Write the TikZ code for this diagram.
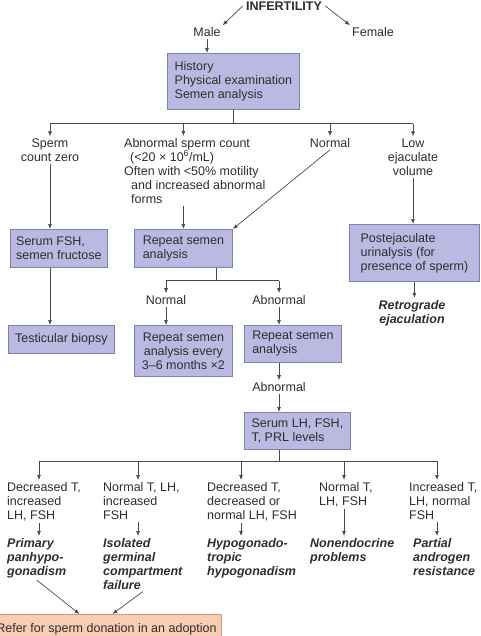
\documentclass[tikz,border=0pt]{standalone}
\usepackage{fontspec}
\setsansfont{Liberation Sans}
\usetikzlibrary{arrows.meta,calc}
\definecolor{inkc}{HTML}{2E2E2E}
\definecolor{wirec}{HTML}{4A4A4A}
\definecolor{lavfill}{HTML}{B9B9E2}
\definecolor{lavdraw}{HTML}{7F7FB0}
\definecolor{peachfill}{HTML}{F8CDB3}
\definecolor{peachdraw}{HTML}{D49A78}
\newcommand\chartfont{\sffamily\fontsize{12.5}{14}\selectfont}
\tikzset{pin/.style={-{Latex[length=5pt,width=4pt]}, draw=wirec, line width=0.7pt},
  bar/.style={draw=wirec, line width=0.7pt},
  blk/.style={draw=lavdraw, fill=lavfill, line width=0.8pt, anchor=north west, align=left, inner xsep=3pt, inner ysep=0pt},
  rbox/.style={draw=peachdraw, fill=peachfill, line width=0.8pt, inner xsep=5pt},
  lbl/.style={align=center, inner sep=2pt},
  res/.style={font=\chartfont\bfseries\itshape, align=left, inner sep=2pt, anchor=north west}}

\begin{document}
\begin{tikzpicture}[x=1pt, y=-1pt, font=\chartfont, text=inkc]
  \useasboundingbox (0,0) rectangle (480,636);
  \clip (0,0) rectangle (480,636);
  \node[font=\chartfont\bfseries] (inf) at (284,6) {INFERTILITY};
  \node[lbl] (male) at (207,32) {Male};
  \node[lbl] (female) at (373,32) {Female};
  \draw[pin] (inf.west) -- (male.north east);
  \draw[pin] (inf.east) -- (female.north west);
  \node[blk, minimum width=132pt, minimum height=56pt] (hist) at (167,53) {History\\Physical examination\\Semen analysis};
  \draw[pin] (male.south) -- (male.south |- hist.north);
  \draw[bar] (hist.south) -- ++(0,14) coordinate (bus);

  \node[lbl] (sperm) at (50,150) {Sperm\\count zero};
  \node[lbl, anchor=north west, align=left] (abn) at (122,136) {Abnormal sperm count\\\hspace*{6pt}(<20 × 10\textsuperscript{6}/mL)\\Often with <50\% motility\\\hspace*{7pt}and increased abnormal\\\hspace*{7pt}forms};
  \node[lbl] (nrm) at (330,143) {Normal};
  \node[lbl] (low) at (413,157) {Low\\ejaculate\\volume};
  \draw[bar] (sperm.north |- bus) -- (low.north |- bus);
  \foreach \n in {sperm,nrm,low} \draw[pin] (\n.north |- bus) -- (\n.north);

  \node[blk, minimum width=97pt, minimum height=38pt] (fsh) at (10,229) {Serum FSH,\\semen fructose};
  \node[blk, minimum width=98pt, minimum height=38pt] (rep1) at (134,229) {Repeat semen\\analysis};
  \node[blk, minimum width=130pt, minimum height=57pt] (post) at (349,224) {Postejaculate\\urinalysis (for\\presence of sperm)};
  \draw[pin] (rep1.north |- bus) -- (rep1.north |- abn.north);
  \draw[pin] (rep1.north |- abn.south) -- (rep1.north);
  \draw[pin] (nrm.south) -- (rep1.north east);
  \draw[pin] (sperm.south) -- (sperm.south |- fsh.north);
  \draw[pin] (low.south) -- (low.south |- post.north);
  \node[res, anchor=center, align=center] (retro) at (412,313) {Retrograde\\ejaculation};
  \draw[pin] (post.south) -- (post.south |- retro.north);

  \node[blk, minimum width=106pt, minimum height=28pt, align=center] (biopsy) at (8,325) {Testicular biopsy};
  \draw[pin] (fsh.south -| sperm) -- (biopsy.north -| sperm);
  \draw[bar] ([xshift=33pt]rep1.south) -- ++(0,13) coordinate (fork);
  \node[lbl] (rnorm) at (166,300) {Normal};
  \node[lbl] (rabn) at (279,300) {Abnormal};
  \draw[bar] (rnorm.north |- fork) -- (rabn.north |- fork);
  \foreach \n in {rnorm,rabn} \draw[pin] (\n.north |- fork) -- (\n.north);
  \node[blk, minimum width=98pt, minimum height=51pt, align=center] (every) at (134,325) {Repeat semen\\analysis every\\3–6 months ×2};
  \node[blk, minimum width=97pt, minimum height=37pt] (rep2) at (244,325) {Repeat semen\\analysis};
  \draw[pin] (rnorm.south) -- (rnorm.south |- every.north);
  \draw[pin] (rabn.south) -- (rabn.south |- rep2.north);
  \node[lbl] (abn2) at (279,387) {Abnormal};
  \draw[pin] (abn2.north |- rep2.south) -- (abn2.north);
  \node[blk, minimum width=106pt, minimum height=37pt] (lh) at (244,412) {Serum LH, FSH,\\T, PRL levels};
  \draw[pin] (abn2.south) -- (abn2.south |- lh.north);
  \coordinate (bus2) at (279,461);
  \draw[bar] (bus2 |- lh.south) -- (bus2);

  \node[lbl, anchor=north west, align=left] (c1) at (5,480) {Decreased T,\\increased\\LH, FSH};
  \node[lbl, anchor=north west, align=left] (c2) at (101,480) {Normal T, LH,\\increased\\FSH};
  \node[lbl, anchor=north west, align=left] (c3) at (205,480) {Decreased T,\\decreased or\\normal LH, FSH};
  \node[lbl, anchor=north west, align=left] (c4) at (317,480) {Normal T,\\LH, FSH};
  \node[lbl, anchor=north west, align=left] (c5) at (407,480) {Increased T,\\LH, normal\\FSH};
  \node[res] (r1) at (5,536) {Primary\\panhypo-\\gonadism};
  \node[res] (r2) at (101,536) {Isolated\\germinal\\compartment\\failure};
  \node[res] (r3) at (205,536) {Hypogonado-\\tropic\\hypogonadism};
  \node[res] (r4) at (308,536) {Nonendocrine\\problems};
  \node[res] (r5) at (411,536) {Partial\\androgen\\resistance};
  \foreach \i/\x in {1/39,2/138,3/241,4/344,5/437} \coordinate (k\i) at (\x,461);
  \draw[bar] (k1) -- (k5);
  \foreach \i in {1,...,5} {
    \draw[pin] (k\i) -- (k\i |- c\i.north);
    \draw[pin] (k\i |- c\i.south) -- (k\i |- r\i.north);
  }

  \node[rbox, anchor=north east, minimum height=30pt] (refer) at (222,614) {Refer for sperm donation in an adoption};
  \draw[pin] (r1.south) -- ([xshift=-27pt]refer.north);
  \draw[pin] (r2.south) -- ([xshift=6pt]refer.north);
\end{tikzpicture}
\end{document}
